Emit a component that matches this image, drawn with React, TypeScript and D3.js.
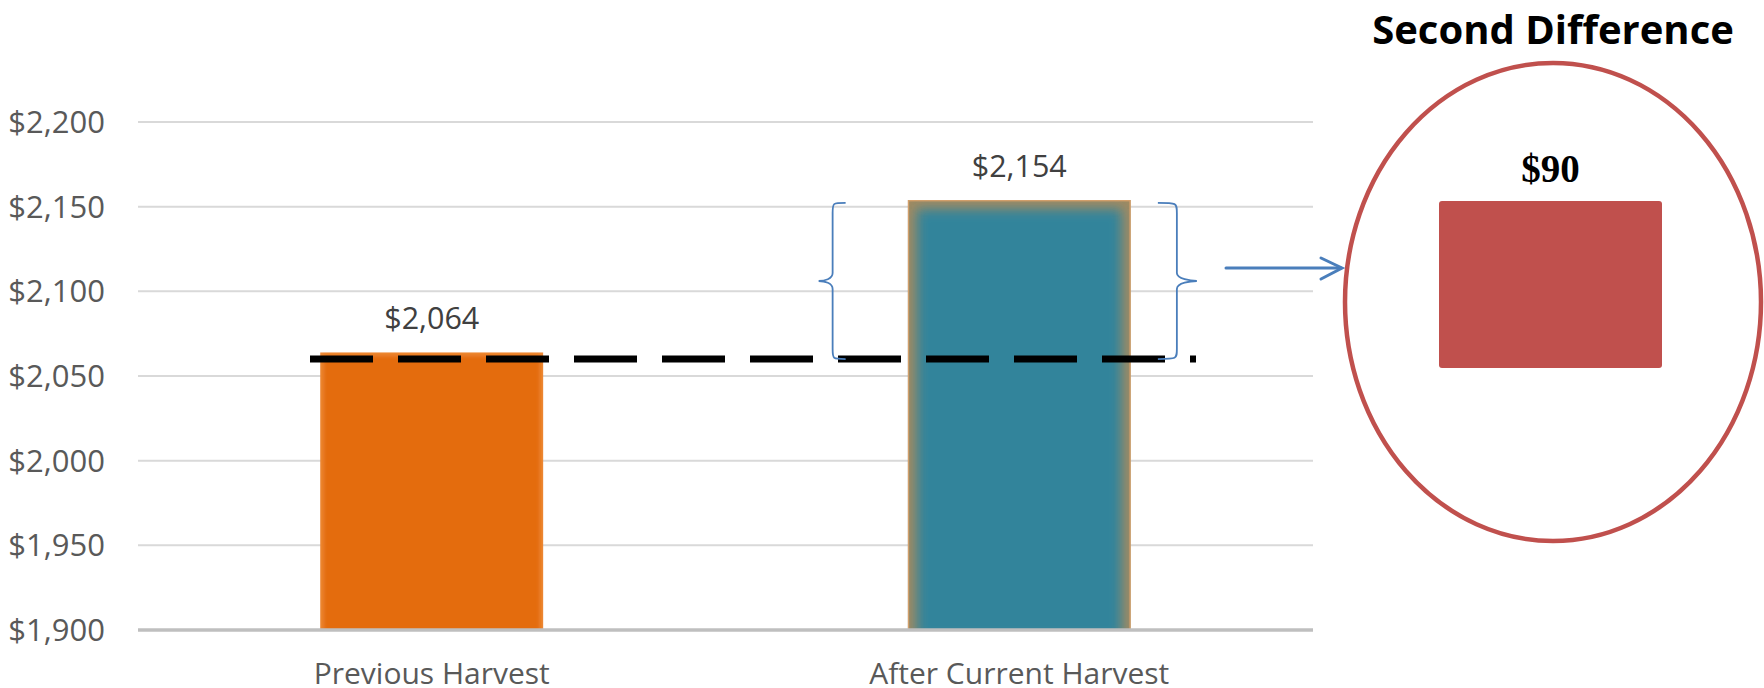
import React from "react";
import * as d3 from "d3";

// Household values before and after the current harvest
const categories = ["Previous Harvest", "After Current Harvest"];
const values = [2064, 2154];
const valueLabels = ["$2,064", "$2,154"];
const yTicks = [1900, 1950, 2000, 2050, 2100, 2150, 2200];
const referenceLevel = 2060;
const differenceValue = values[1] - values[0];
const differenceLabel = "$90";
const insetTitle = "Second Difference";

const W = 1764;
const H = 688;
const plot = { left: 138, right: 1313, top: 122, bottom: 630 };

const x = d3
  .scaleBand<string>()
  .domain(categories)
  .range([plot.left, plot.right])
  .paddingInner(0.62)
  .paddingOuter(0.31);

const y = d3.scaleLinear().domain([1900, 2200]).range([plot.bottom, plot.top]);

// Inset panel: a single bar for the difference
const insetX = d3.scaleBand<string>().domain(["diff"]).range([1439, 1662]);
const insetY = d3.scaleLinear().domain([0, differenceValue]).range([368, 201]);

const fmt = (v: number) => "$" + d3.format(",")(v);

const sans = "'Open Sans', 'Noto Sans', sans-serif";

function bracePath(xv: number, top: number, bottom: number, dir: number, tip: number, arm: number) {
  // dir = -1 points left, +1 points right
  const mid = (top + bottom) / 2;
  const e = xv - dir * arm;
  const t = xv + dir * tip;
  return [
    `M ${e} ${top}`,
    `C ${xv} ${top}, ${xv} ${top}, ${xv} ${top + 10}`,
    `L ${xv} ${mid - 8}`,
    `C ${xv} ${mid - 2}, ${t - dir * 6} ${mid}, ${t} ${mid}`,
    `C ${t - dir * 6} ${mid}, ${xv} ${mid + 2}, ${xv} ${mid + 8}`,
    `L ${xv} ${bottom - 10}`,
    `C ${xv} ${bottom}, ${xv} ${bottom}, ${e} ${bottom}`,
  ].join(" ");
}

export default function App() {
  const bw = x.bandwidth();
  const bars = categories.map((c, i) => ({
    c,
    v: values[i],
    label: valueLabels[i],
    x0: x(c) as number,
    y0: y(values[i]),
  }));
  const after = bars[1];
  const refY = y(referenceLevel);
  const braceTop = y(values[1]) + 3;
  const arrowY = (braceTop + refY) / 2 - 13;

  return (
    <svg
      width={W}
      height={H}
      viewBox={`0 0 ${W} ${H}`}
      style={{ position: "absolute", left: 0, top: 0, background: "#fff" }}
    >
      <defs>
        <clipPath id="tealClip">
          <rect x={after.x0} y={after.y0} width={bw} height={plot.bottom - after.y0} />
        </clipPath>
        <clipPath id="orangeClip">
          <rect x={bars[0].x0} y={bars[0].y0} width={bw} height={plot.bottom - bars[0].y0} />
        </clipPath>
        <filter id="soft" x="-20%" y="-20%" width="140%" height="140%">
          <feGaussianBlur stdDeviation="6" />
        </filter>
        <filter id="softSmall" x="-20%" y="-20%" width="140%" height="140%">
          <feGaussianBlur stdDeviation="2" />
        </filter>
      </defs>

      {/* gridlines */}
      {yTicks.slice(1).map((t) => (
        <line key={t} x1={plot.left} x2={plot.right} y1={y(t)} y2={y(t)} stroke="#d9d9d9" strokeWidth={2} />
      ))}

      {/* y tick labels */}
      {yTicks.map((t) => (
        <text
          key={t}
          x={105}
          y={y(t)}
          dy="0.35em"
          textAnchor="end"
          fontFamily={sans}
          fontSize={31}
          fill="#595959"
        >
          {fmt(t)}
        </text>
      ))}

      {/* bars */}
      <g clipPath="url(#orangeClip)">
        <rect x={bars[0].x0} y={bars[0].y0} width={bw} height={plot.bottom - bars[0].y0} fill="#ee8c3c" />
        <rect
          x={bars[0].x0 + 3}
          y={bars[0].y0 + 3}
          width={bw - 6}
          height={plot.bottom - bars[0].y0}
          fill="#e46c0a"
          filter="url(#softSmall)"
        />
      </g>
      <g clipPath="url(#tealClip)">
        <rect x={after.x0} y={after.y0} width={bw} height={plot.bottom - after.y0} fill="#a08a62" />
        <rect
          x={after.x0 + 9}
          y={after.y0 + 9}
          width={bw - 18}
          height={plot.bottom - after.y0}
          fill="#31849b"
          filter="url(#soft)"
        />
        <rect
          x={after.x0 + 0.75}
          y={after.y0 + 0.75}
          width={bw - 1.5}
          height={plot.bottom - after.y0}
          fill="none"
          stroke="#e8a86e"
          strokeWidth={1.5}
          opacity={0.7}
        />
      </g>

      {/* axis baseline */}
      <line x1={plot.left} x2={plot.right} y1={plot.bottom} y2={plot.bottom} stroke="#bfbfbf" strokeWidth={3.5} />

      {/* value labels */}
      {bars.map((b) => (
        <text
          key={b.c}
          x={b.x0 + bw / 2}
          y={b.y0 - 23}
          textAnchor="middle"
          fontFamily={sans}
          fontSize={30.5}
          fill="#404040"
        >
          {b.label}
        </text>
      ))}

      {/* category labels */}
      {categories.map((c) => (
        <text
          key={c}
          x={(x(c) as number) + bw / 2}
          y={684}
          textAnchor="middle"
          fontFamily={sans}
          fontSize={30}
          fill="#595959"
        >
          {c}
        </text>
      ))}

      {/* dashed reference line at the previous level */}
      <line
        x1={310}
        x2={1196}
        y1={refY}
        y2={refY}
        stroke="#000"
        strokeWidth={7}
        strokeDasharray="63 25"
      />

      {/* braces around the increase */}
      <path d={bracePath(after.x0 - 75, braceTop, refY, -1, 14, 13)} fill="none" stroke="#4a7ebb" strokeWidth={1.8} />
      <path d={bracePath(after.x0 + bw + 46, braceTop, refY, 1, 20, 19)} fill="none" stroke="#4a7ebb" strokeWidth={1.8} />

      {/* arrow to the inset */}
      <g stroke="#4a7ebb" strokeWidth={3} fill="none" strokeLinecap="round">
        <line x1={1226} x2={1341} y1={arrowY} y2={arrowY} />
        <polyline points={`1321,${arrowY - 10} 1342,${arrowY} 1321,${arrowY + 11}`} />
      </g>

      {/* inset: second difference */}
      <text
        x={1553}
        y={44}
        textAnchor="middle"
        fontFamily={sans}
        fontWeight={700}
        fontSize={40}
        fill="#000"
      >
        {insetTitle}
      </text>
      <ellipse cx={1553} cy={302} rx={208} ry={239} fill="none" stroke="#c0504d" strokeWidth={4.5} />
      <rect
        x={insetX("diff") as number}
        y={insetY(differenceValue)}
        width={insetX.bandwidth()}
        height={insetY(0) - insetY(differenceValue)}
        rx={3}
        fill="#c0504d"
      />
      <text
        x={(insetX("diff") as number) + insetX.bandwidth() / 2}
        y={182}
        textAnchor="middle"
        fontFamily="'Liberation Serif', 'DejaVu Serif', serif"
        fontWeight={700}
        fontSize={39}
        fill="#000"
      >
        {differenceLabel}
      </text>
    </svg>
  );
}
